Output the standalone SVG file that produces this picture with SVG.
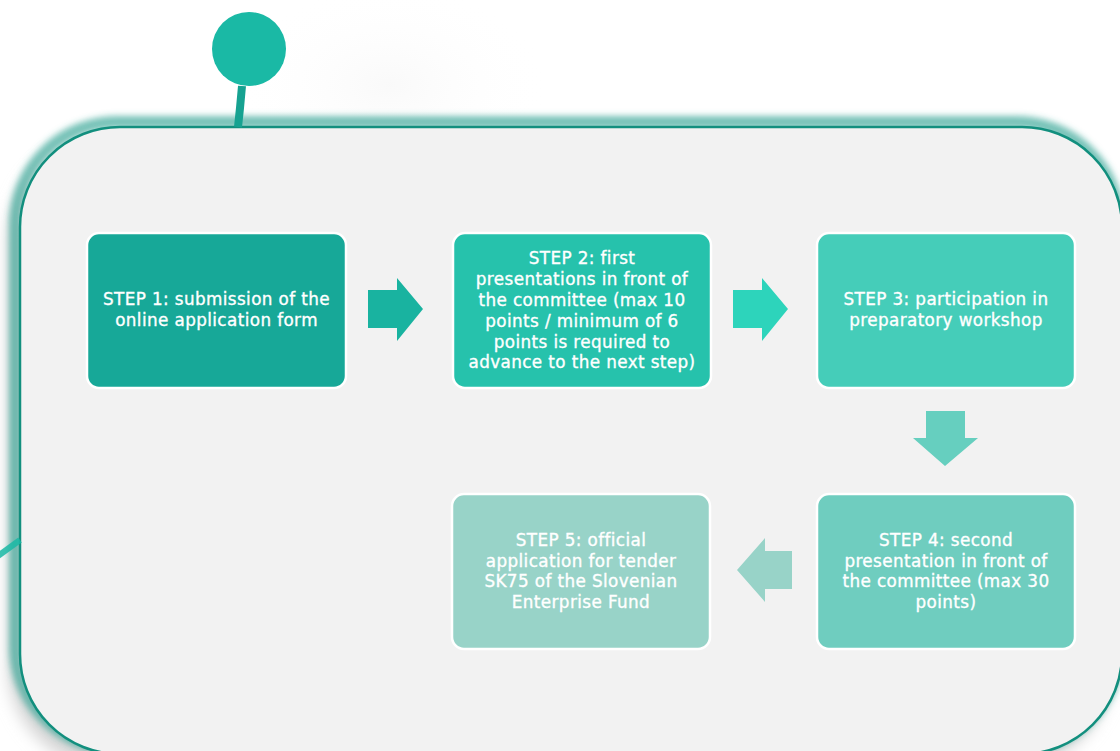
<svg xmlns="http://www.w3.org/2000/svg" width="1120" height="751" viewBox="0 0 1120 751">
  <defs>
    <filter id="glow" x="-10%" y="-10%" width="120%" height="120%">
      <feGaussianBlur stdDeviation="3"/>
    </filter>
    <filter id="greyShadow" x="-10%" y="-10%" width="120%" height="120%">
      <feGaussianBlur stdDeviation="8"/>
    </filter>
    <radialGradient id="spot" cx="0.5" cy="0.5" r="0.5">
      <stop offset="0" stop-color="#efefef" stop-opacity="0.35"/>
      <stop offset="1" stop-color="#ffffff" stop-opacity="0"/>
    </radialGradient>
    <style>
      .box { stroke: #ffffff; stroke-width: 2.5; }
      .lbl { font-family: "DejaVu Sans", "Liberation Sans", sans-serif; font-size: 16.8px; letter-spacing: 0.4px; fill: #ffffff; stroke: #ffffff; stroke-width: 0.35; text-anchor: middle; }
    </style>
  </defs>

  <rect x="0" y="0" width="1120" height="751" fill="#ffffff"/>
  <ellipse cx="390" cy="85" rx="160" ry="100" fill="url(#spot)"/>

  <!-- panel -->
  <g id="panel">
    <rect x="8" y="140" width="1104" height="627" rx="100" fill="#d4d4d4" filter="url(#greyShadow)"/>
    <rect x="15" y="122" width="1104" height="627" rx="102" fill="none" stroke="#3aa898" stroke-width="12" stroke-opacity="0.7" filter="url(#glow)"/>
    <rect x="20" y="127" width="1102" height="627" rx="100" fill="#f2f2f2" stroke="#128f7e" stroke-width="2.5"/>
  </g>

  <!-- pin -->
  <g id="pin">
    <polyline points="238,127 240,108 242,86" fill="none" stroke="#16a291" stroke-width="8"/>
    <circle cx="249" cy="49" r="37" fill="#1ab9a5"/>
  </g>
  <line x1="-2" y1="556" x2="20" y2="540" stroke="#1ab9a5" stroke-width="6" stroke-opacity="0.85"/>

  <!-- connectors -->
  <g id="connectors">
    <polygon points="368,290 397,290 397,278 423,309 397,341 397,328 368,328" fill="#19b3a0"/>
    <polygon points="733,290 762,290 762,278 788,309 762,341 762,328 733,328" fill="#2dd4bb"/>
    <polygon points="926,411 965,411 965,438 978,438 945,466 913,438 926,438" fill="#66cfbf"/>
    <polygon points="792,551 765,551 765,538 737,570 765,602 765,589 792,589" fill="#98d3c8"/>
  </g>

  <g id="step1">
    <rect class="box" x="87" y="233" width="259" height="155" rx="12" fill="#17a898"/>
    <text class="lbl" x="216.5" y="305">STEP 1: submission of the</text>
    <text class="lbl" x="216.5" y="326">online application form</text>
  </g>

  <g id="step2">
    <rect class="box" x="453" y="233" width="258" height="155" rx="12" fill="#26c2ac"/>
    <text class="lbl" x="582" y="264">STEP 2: first</text>
    <text class="lbl" x="582" y="285">presentations in front of</text>
    <text class="lbl" x="582" y="306">the committee (max 10</text>
    <text class="lbl" x="582" y="327">points / minimum of 6</text>
    <text class="lbl" x="582" y="348">points is required to</text>
    <text class="lbl" x="582" y="368">advance to the next step)</text>
  </g>

  <g id="step3">
    <rect class="box" x="817" y="233" width="258" height="155" rx="12" fill="#45cdb9"/>
    <text class="lbl" x="946" y="305">STEP 3: participation in</text>
    <text class="lbl" x="946" y="326">preparatory workshop</text>
  </g>

  <g id="step4">
    <rect class="box" x="817" y="494" width="258" height="155" rx="12" fill="#6fcdbf"/>
    <text class="lbl" x="946" y="546">STEP 4: second</text>
    <text class="lbl" x="946" y="567">presentation in front of</text>
    <text class="lbl" x="946" y="587">the committee (max 30</text>
    <text class="lbl" x="946" y="608">points)</text>
  </g>

  <g id="step5">
    <rect class="box" x="452" y="494" width="258" height="155" rx="12" fill="#98d3c8"/>
    <text class="lbl" x="581" y="546">STEP 5: official</text>
    <text class="lbl" x="581" y="567">application for tender</text>
    <text class="lbl" x="581" y="587">SK75 of the Slovenian</text>
    <text class="lbl" x="581" y="608">Enterprise Fund</text>
  </g>
</svg>
